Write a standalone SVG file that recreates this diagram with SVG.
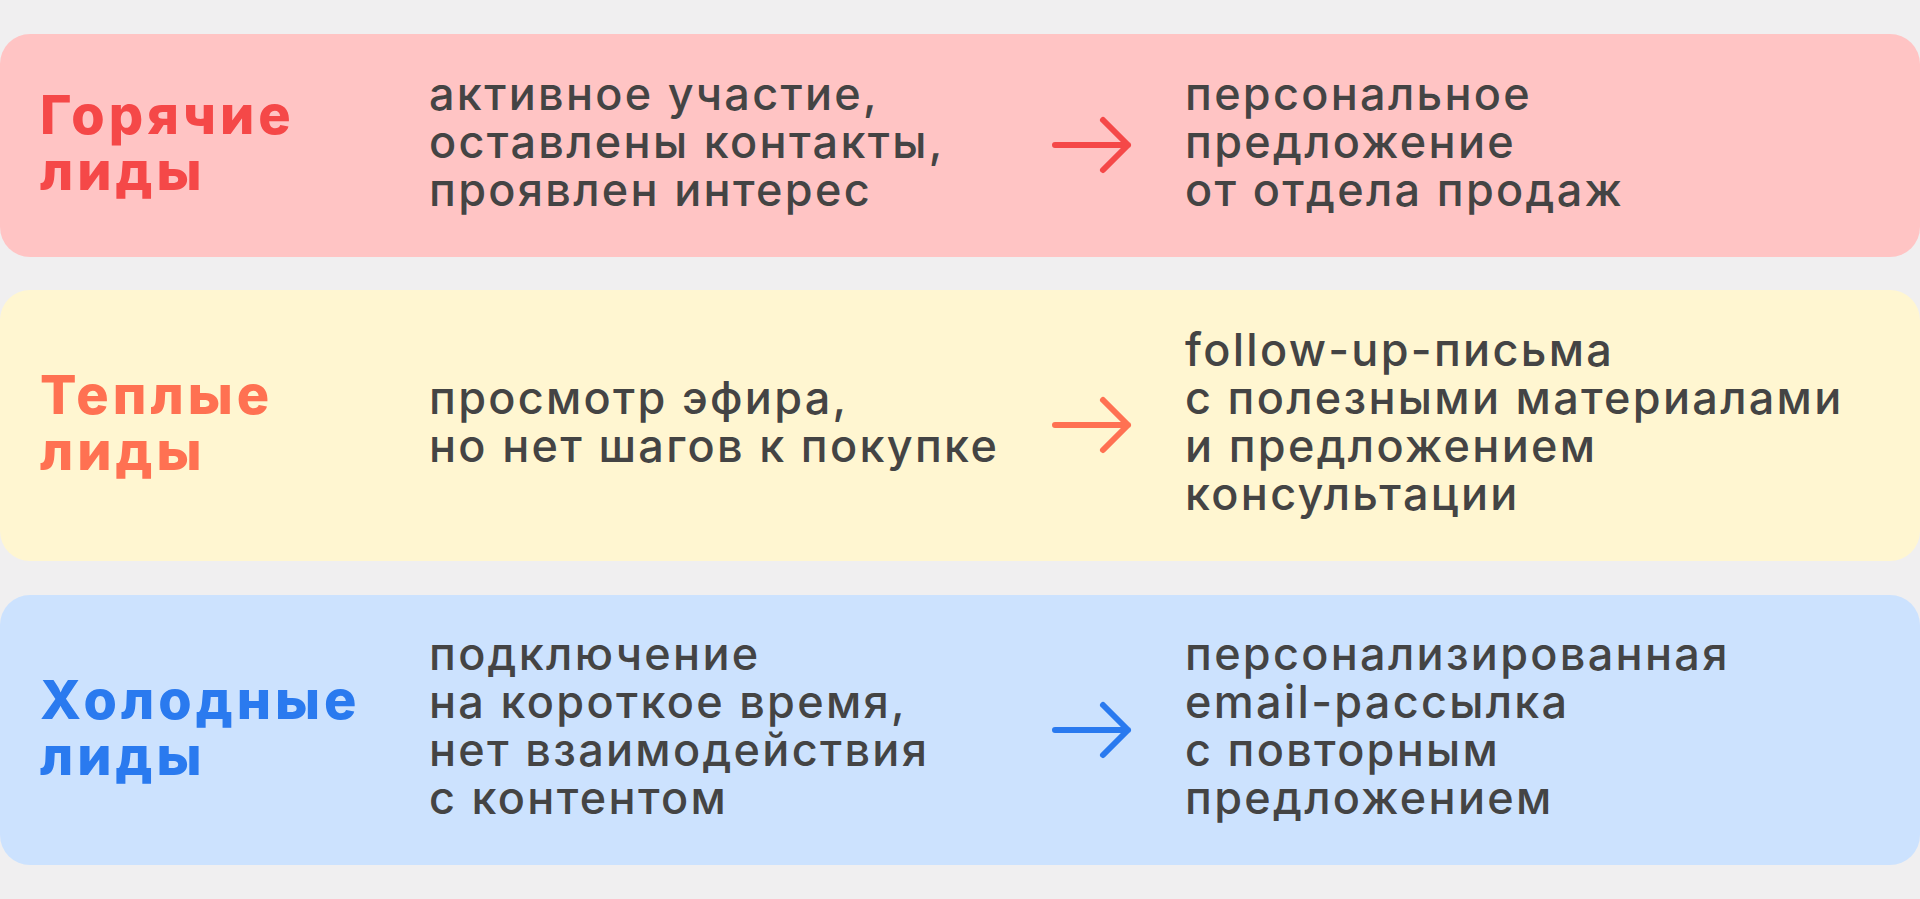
<svg xmlns="http://www.w3.org/2000/svg" width="1920" height="899" viewBox="0 0 1920 899">
<style>
.t{font-family:Inter,"Noto Sans",sans-serif;font-weight:800;font-size:54px;letter-spacing:4px}
.b{font-family:Inter,"Noto Sans",sans-serif;font-weight:500;font-size:45px;letter-spacing:2.3px;fill:#444444}
.a{fill:none;stroke-width:6;stroke-linecap:round;stroke-linejoin:round}
</style>
<rect width="1920" height="899" fill="#f0eff0"/>
<g id="hot">
<rect x="0" y="34" width="1920" height="223" rx="30" fill="#ffc4c4"/>
<text class="t" fill="#f54848"><tspan x="40" y="134">Горячие</tspan><tspan x="40" y="190">лиды</tspan></text>
<text class="b"><tspan x="429" y="110">активное участие,</tspan><tspan x="429" y="158">оставлены контакты,</tspan><tspan x="429" y="206">проявлен интерес</tspan></text>
<text class="b"><tspan x="1185" y="110">персональное</tspan><tspan x="1185" y="158">предложение</tspan><tspan x="1185" y="206">от отдела продаж</tspan></text>
</g>
<g id="warm">
<rect x="0" y="290" width="1920" height="271" rx="30" fill="#fff6d1"/>
<text class="t" fill="#ff7152"><tspan x="40" y="414">Теплые</tspan><tspan x="40" y="470">лиды</tspan></text>
<text class="b"><tspan x="429" y="414">просмотр эфира,</tspan><tspan x="429" y="462">но нет шагов к покупке</tspan></text>
<text class="b"><tspan x="1185" y="366">follow-up-письма</tspan><tspan x="1185" y="414">с полезными материалами</tspan><tspan x="1185" y="462">и предложением</tspan><tspan x="1185" y="510">консультации</tspan></text>
</g>
<g id="cold">
<rect x="0" y="595" width="1920" height="270" rx="30" fill="#cce2fe"/>
<text class="t" fill="#2a7aef"><tspan x="40" y="719">Холодные</tspan><tspan x="40" y="775">лиды</tspan></text>
<text class="b"><tspan x="429" y="670">подключение</tspan><tspan x="429" y="718">на короткое время,</tspan><tspan x="429" y="766">нет взаимодействия</tspan><tspan x="429" y="814">с контентом</tspan></text>
<text class="b"><tspan x="1185" y="670">персонализированная</tspan><tspan x="1185" y="718">email-рассылка</tspan><tspan x="1185" y="766">с повторным</tspan><tspan x="1185" y="814">предложением</tspan></text>
</g>
<g id="connectors">
<path class="a" stroke="#f54848" d="M1055 145H1128M1103 120L1128 145L1103 170"/>
<path class="a" stroke="#ff7152" d="M1055 425H1128M1103 400L1128 425L1103 450"/>
<path class="a" stroke="#2a7aef" d="M1055 730H1128M1103 705L1128 730L1103 755"/>
</g>
</svg>
